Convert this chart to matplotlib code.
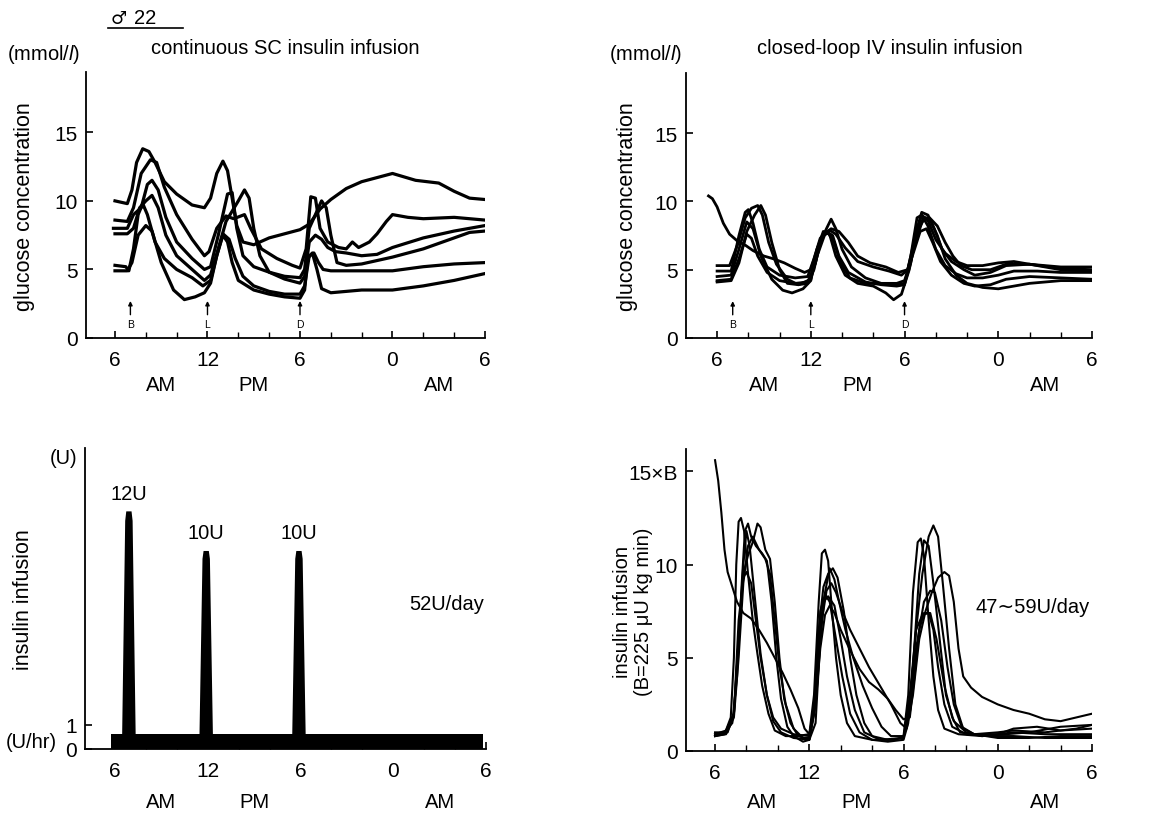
import matplotlib
matplotlib.use("Agg")
import matplotlib.pyplot as plt
from matplotlib.lines import Line2D
import numpy as np

plt.rcParams['font.family'] = ['Liberation Sans', 'DejaVu Sans']
plt.rcParams['mathtext.fontset'] = 'custom'
plt.rcParams['mathtext.rm'] = 'Liberation Sans'
plt.rcParams['mathtext.it'] = 'Liberation Sans:italic'

# time axis: hours after 6 AM
tick_hours = [0, 6, 12, 18, 24]
tick_labels = ['6', '12', '6', '0', '6']
ampm_hours = [3, 9, 21]
ampm_labels = ['AM', 'PM', 'AM']
meal_hours = [1.0, 6.0, 12.0]
meal_labels = ['B', 'L', 'D']

# glucose, continuous SC insulin infusion (mmol/l)
sc_curves = [
    ([0, 0.8, 1.1, 1.4, 1.8, 2.2, 2.6, 3.2, 4, 5, 5.8, 6.2, 6.6, 7.0, 7.3, 7.6, 7.9, 8.3, 9, 10, 11, 12, 12.6, 13.3, 14, 15, 16, 17, 18, 19.5, 21, 22, 23, 24],
     [10.0, 9.8, 10.8, 12.8, 13.8, 13.6, 12.8, 11.4, 10.5, 9.7, 9.5, 10.2, 12.0, 12.9, 12.2, 10.2, 8.2, 7.0, 6.8, 7.3, 7.6, 7.9, 8.3, 9.4, 10.1, 10.9, 11.4, 11.7, 12.0, 11.5, 11.3, 10.7, 10.2, 10.1]),
    ([0, 0.8, 1.2, 1.7, 2.3, 2.7, 3.2, 4, 5, 5.8, 6.1, 6.6, 7.2, 7.7, 8.4, 8.8, 9.5, 10.5, 11.5, 12, 12.4, 12.7, 13.0, 13.3, 13.8, 14.5, 15, 15.4, 15.8, 16.5, 17, 17.6, 18, 19, 20, 22, 24],
     [8.6, 8.5, 9.5, 12.0, 13.0, 12.8, 11.0, 9.0, 7.2, 6.0, 6.3, 8.0, 8.9, 8.7, 9.0, 8.0, 6.5, 5.8, 5.3, 5.1, 6.5, 10.3, 10.2, 8.0, 7.0, 6.6, 6.5, 7.0, 6.6, 7.0, 7.6, 8.5, 9.0, 8.8, 8.7, 8.8, 8.6]),
    ([-0.1, 0.8, 1.2, 1.7, 2.1, 2.4, 2.8, 3.3, 4, 5, 5.8, 6.2, 6.7, 7.3, 7.6, 7.9, 8.3, 9, 10, 11, 12, 12.3, 12.6, 13.0, 13.4, 13.7, 14.0, 14.4, 15, 16, 18, 20, 22, 23, 24],
     [8.0, 8.0, 9.0, 9.5, 11.2, 11.5, 10.8, 8.8, 7.0, 5.8, 5.0, 5.2, 7.5, 10.5, 10.6, 8.0, 6.0, 5.2, 4.8, 4.5, 4.4, 5.0, 8.0, 9.0, 10.0, 9.5, 7.5, 5.5, 5.3, 5.4, 5.9, 6.5, 7.3, 7.7, 7.8]),
    ([0, 0.8, 1.2, 1.6, 2.0, 2.4, 2.8, 3.3, 4, 5, 5.8, 6.2, 6.7, 7.2, 8, 8.4, 8.7, 9.0, 9.4, 10, 11, 12, 12.3, 12.6, 13, 13.4, 13.8, 14.3, 15, 16, 17, 18, 20, 22, 24],
     [7.6, 7.6, 8.0, 9.5, 10.0, 10.4, 9.5, 7.5, 6.0, 5.0, 4.2, 4.6, 6.5, 8.5, 10.0, 10.8, 10.2, 8.0, 6.0, 4.8, 4.3, 4.0, 4.5, 7.0, 7.5, 7.2, 6.6, 6.3, 6.2, 6.0, 6.1, 6.6, 7.3, 7.8, 8.2]),
    ([0, 0.7, 0.9, 1.2, 1.5, 1.8, 2.1, 2.6, 3.2, 4, 5, 5.7, 6.2, 6.6, 7.0, 7.4, 7.8, 8.3, 9, 10, 11, 12, 12.3, 12.6, 12.9, 13.2, 13.5, 14, 16, 18, 20, 22, 24],
     [5.3, 5.2, 4.9, 6.5, 9.0, 9.8, 9.0, 7.0, 5.8, 5.0, 4.4, 3.8, 4.2, 6.0, 7.6, 7.2, 5.8, 4.5, 3.8, 3.4, 3.2, 3.2, 3.8, 6.0, 6.2, 5.5, 5.0, 4.9, 4.9, 4.9, 5.2, 5.4, 5.5]),
    ([0, 0.8, 1.1, 1.5, 2.0, 2.4, 3, 3.8, 4.5, 5.2, 5.8, 6.2, 6.6, 7.0, 7.3, 7.6, 8, 9, 10, 11, 12, 12.3, 12.5, 12.8, 13.1, 13.4, 14, 16, 18, 20, 21, 22, 24],
     [4.9, 4.9, 5.5, 7.5, 8.2, 7.8, 5.5, 3.5, 2.8, 3.0, 3.3, 4.0, 6.0, 7.5, 7.0, 5.5, 4.2, 3.5, 3.2, 3.0, 2.9, 3.5, 5.8, 6.2, 5.0, 3.6, 3.3, 3.5, 3.5, 3.8, 4.0, 4.2, 4.7]),
]

# glucose, closed-loop IV insulin infusion (mmol/l)
iv_curves = [
    ([-0.55, -0.3, 0, 0.4, 0.8, 1.3, 1.8, 2.3, 3, 3.6, 4.3, 5, 5.6, 6.0, 6.4, 6.8, 7.2, 7.6, 8.2, 9, 10, 11, 11.8, 12.2, 12.7, 13.1, 13.5, 14, 14.6, 15.3, 16, 17, 18, 19, 20, 22, 24],
     [10.4, 10.2, 9.6, 8.4, 7.6, 7.1, 6.8, 6.4, 6.0, 5.8, 5.5, 5.1, 4.8, 5.0, 6.5, 7.6, 7.9, 7.6, 6.6, 5.6, 5.2, 4.9, 4.6, 5.0, 7.5, 9.0, 8.6, 7.2, 6.2, 5.6, 5.3, 5.3, 5.5, 5.6, 5.4, 5.1, 5.0]),
    ([0, 0.8, 1.3, 1.8, 2.2, 2.6, 2.9, 3.3, 3.8, 4.5, 5.2, 5.8, 6.2, 6.6, 7.0, 7.3, 7.6, 8.0, 8.6, 9.5, 10.5, 11.5, 12.0, 12.4, 12.8, 13.1, 13.5, 13.9, 14.4, 15, 15.8, 16.5, 17.5, 18.5, 20, 22, 24],
     [5.3, 5.3, 6.8, 8.8, 9.5, 9.7, 9.0, 7.0, 5.4, 4.3, 3.9, 4.0, 5.0, 7.0, 8.0, 8.7, 8.0, 6.5, 5.2, 4.4, 4.0, 3.9, 4.0, 5.5, 8.0, 9.2, 9.0, 8.0, 6.5, 5.6, 5.0, 4.6, 4.8, 5.3, 5.4, 5.2, 5.2]),
    ([0, 0.9, 1.4, 1.8, 2.0, 2.3, 2.7, 3.2, 4, 5, 5.8, 6.2, 6.6, 7.0, 7.4, 7.8, 8.4, 9.5, 10.5, 11.5, 12.0, 12.4, 12.8, 13.1, 13.5, 14.0, 14.6, 15.3, 16, 17, 18, 19, 20.5, 22, 24],
     [4.9, 4.9, 7.5, 9.2, 9.4, 8.4, 6.5, 5.2, 4.6, 4.4, 4.5, 5.8, 7.3, 7.8, 7.5, 6.0, 4.8, 4.1, 3.9, 3.8, 3.9, 6.0, 8.8, 9.0, 8.2, 6.5, 5.3, 4.7, 4.4, 4.4, 4.6, 4.9, 4.9, 4.8, 4.8]),
    ([0, 0.9, 1.4, 1.9, 2.3, 2.8, 3.5, 4.2, 4.8, 5.5, 6.0, 6.4, 6.8, 7.2, 7.6, 8.2, 9, 10, 10.8, 11.3, 11.8, 12.3, 12.8, 13.3, 13.7, 14.1, 14.6, 15.3, 16, 17, 18, 19, 20, 22, 24],
     [4.5, 4.6, 6.5, 8.5, 8.0, 6.0, 4.3, 3.5, 3.3, 3.6, 4.2, 6.5, 7.8, 7.6, 6.0, 4.6, 4.0, 3.8, 3.3, 2.8, 3.2, 5.0, 7.8, 8.8, 8.5, 7.5, 5.8, 4.6, 4.0, 3.7, 3.6, 3.8, 4.0, 4.2, 4.2]),
    ([0, 0.9, 1.4, 1.9, 2.2, 2.6, 3.2, 4, 5, 5.8, 6.3, 6.7, 7.1, 7.5, 7.9, 8.5, 9.5, 10.5, 11.5, 12.0, 12.5, 13.0, 13.4, 13.8, 14.3, 15, 15.8, 16.5, 17.5, 18.5, 20, 22, 24],
     [4.2, 4.3, 5.8, 7.6, 7.3, 6.0, 4.8, 4.2, 4.0, 4.1, 5.5, 7.4, 7.7, 7.0, 5.5, 4.4, 4.0, 4.0, 4.0, 4.2, 6.0, 7.8, 8.0, 7.0, 5.6, 4.6, 4.0, 3.8, 3.9, 4.3, 4.5, 4.4, 4.3]),
    ([0, 0.9, 1.4, 1.9, 2.4, 2.8, 3.1, 3.5, 4, 4.5, 5.2, 6.0, 6.4, 6.9, 7.3, 7.8, 8.4, 9, 9.8, 10.8, 11.6, 12.2, 12.7, 13.2, 13.6, 14.1, 14.6, 15.1, 15.6, 16.3, 17.5, 18.5, 20, 22, 24],
     [4.1, 4.2, 5.5, 7.8, 9.0, 9.7, 9.0, 7.0, 5.0, 4.0, 3.9, 4.3, 6.0, 7.6, 8.0, 7.8, 7.0, 6.0, 5.5, 5.2, 4.8, 5.0, 7.0, 8.8, 8.8, 8.2, 7.0, 6.0, 5.3, 5.0, 5.0, 5.4, 5.4, 5.0, 4.9]),
]

# insulin infusion, continuous SC pump
bolus_hours = [0.9, 5.9, 11.9]
bolus_units = [12, 10, 10]
basal_start, basal_end = -0.26, 23.8
basal_rate = 0.62  # U/hr

# insulin infusion, closed loop (multiples of B = 225 uU/kg/min)
cl_curves = [
    ([0, 0.2, 0.4, 0.6, 0.8, 1.1, 1.4, 1.8, 2.3, 2.8, 3.3, 3.8, 4.3, 4.8, 5.3, 5.7, 6.0, 6.4, 6.7, 7.0, 7.3, 7.6, 8.0, 8.6, 9.2, 9.8, 10.4, 11, 11.5, 12, 12.4, 12.7, 13.0, 13.3, 13.7, 14.1, 14.6, 15.1, 15.6, 16.5, 18, 19, 21, 23, 24],
     [15.6, 14.5, 12.8, 10.8, 9.6, 8.8, 8.0, 7.4, 7.1, 6.5, 5.8, 5.0, 4.2, 3.3, 2.3, 1.2, 0.9, 2.5, 5.5, 7.3, 7.8, 7.4, 6.5, 5.4, 4.4, 3.7, 3.3, 2.8, 2.2, 1.7, 1.8, 4.0, 6.5, 7.4, 7.4, 6.0, 3.5, 1.8, 1.0, 0.9, 1.0, 1.1, 1.0, 1.2, 1.4]),
    ([0, 0.6, 1.0, 1.2, 1.35, 1.5, 1.65, 1.85, 2.1, 2.4, 2.7, 3.0, 3.4, 3.8, 4.5, 5.2, 6.0, 6.3, 6.6, 6.8, 7.0, 7.2, 7.4, 7.7, 8.0, 8.4, 8.9, 10, 11.5, 12, 12.3, 12.6, 12.9, 13.1, 13.3, 13.6, 13.9, 14.2, 14.6, 15.5, 17, 19, 21, 24],
     [0.8, 0.9, 1.8, 5.0, 10.0, 12.3, 12.5, 11.8, 9.5, 7.0, 5.2, 3.5, 2.0, 1.1, 0.8, 0.8, 0.9, 3.0, 8.0, 10.6, 10.8, 10.2, 8.0, 5.0, 3.0, 1.5, 0.8, 0.6, 0.6, 0.8, 3.0, 8.5, 11.2, 11.4, 10.5, 7.0, 4.0, 2.2, 1.2, 0.9, 0.8, 1.0, 0.9, 0.9]),
    ([0, 0.6, 1.1, 1.4, 1.7, 1.9, 2.1, 2.3, 2.6, 3.0, 3.3, 3.6, 3.9, 4.2, 4.6, 5.0, 5.6, 6.0, 6.3, 6.6, 6.9, 7.2, 7.5, 7.8, 8.2, 8.6, 9.0, 9.5, 10, 11, 12, 12.4, 12.8, 13.2, 13.6, 13.9, 14.2, 14.5, 14.9, 15.3, 15.8, 16.5, 18, 20, 22, 24],
     [0.8, 1.0, 1.5, 4.0, 9.0, 11.8, 12.2, 11.5, 11.0, 10.6, 10.2, 8.0, 5.0, 2.8, 1.3, 0.8, 0.5, 0.6, 2.0, 6.5, 8.8, 9.5, 9.8, 9.3, 7.5, 5.0, 3.0, 1.5, 0.8, 0.6, 0.7, 2.5, 6.5, 9.5, 11.5, 12.1, 11.5, 9.0, 5.5, 2.5, 1.2, 0.9, 0.7, 0.7, 0.8, 0.8]),
    ([0, 0.7, 1.2, 1.5, 1.8, 2.1, 2.4, 2.7, 2.9, 3.2, 3.5, 3.8, 4.1, 4.4, 4.8, 5.3, 6, 6.4, 6.7, 7.0, 7.3, 7.6, 7.9, 8.3, 8.8, 9.4, 10, 10.6, 11.2, 12, 12.4, 12.8, 13.3, 13.7, 14.0, 14.4, 14.8, 15.2, 15.7, 16.5, 18, 19, 20.5, 22, 24],
     [0.9, 1.1, 2.0, 6.0, 9.5, 10.5, 11.2, 12.2, 12.0, 10.8, 10.3, 8.0, 5.0, 2.8, 1.5, 0.8, 0.6, 1.5, 6.0, 8.5, 9.8, 9.2, 8.0, 6.5, 5.0, 3.5, 2.3, 1.3, 0.8, 0.8, 2.0, 5.5, 8.0, 8.6, 8.5, 7.0, 4.5, 2.5, 1.3, 0.9, 0.9, 1.2, 1.3, 1.1, 1.2]),
    ([0, 0.8, 1.2, 1.5, 1.8, 2.0, 2.3, 2.6, 2.9, 3.3, 3.7, 4.2, 5, 6, 6.3, 6.6, 6.9, 7.2, 7.6, 8.0, 8.4, 8.9, 9.5, 10.5, 12, 12.4, 12.8, 13.2, 13.6, 13.9, 14.2, 14.6, 15.1, 16, 17.5, 19, 21, 24],
     [1.0, 1.0, 2.0, 7.0, 9.3, 9.6, 9.0, 7.0, 5.0, 3.0, 1.6, 1.0, 0.7, 0.6, 2.0, 6.0, 8.0, 8.3, 7.8, 6.0, 4.0, 2.2, 1.0, 0.6, 0.7, 3.0, 6.5, 7.3, 7.4, 6.5, 4.5, 2.5, 1.3, 0.9, 0.8, 0.8, 0.7, 0.7]),
    ([0, 0.7, 1.2, 1.5, 1.8, 2.1, 2.4, 2.8, 3.2, 3.5, 3.8, 4.1, 4.5, 5.0, 5.6, 6.0, 6.4, 6.8, 7.1, 7.4, 7.7, 8.1, 8.6, 9.2, 9.8, 10.5, 11.2, 11.8, 12.2, 12.6, 13.0, 13.4, 13.8, 14.2, 14.6, 14.9, 15.2, 15.5, 15.8, 16.3, 17, 18, 19, 20, 21, 22, 23, 24],
     [0.8, 0.9, 1.8, 5.0, 9.0, 11.0, 11.5, 10.8, 10.3, 9.5, 7.0, 4.5, 2.5, 1.2, 0.7, 0.7, 2.5, 7.0, 8.6, 9.0, 8.5, 7.5, 6.5, 5.5, 4.5, 3.5, 2.5, 1.5, 1.2, 3.0, 6.0, 7.5, 8.5, 9.3, 9.6, 9.4, 8.0, 5.5, 4.0, 3.4, 2.9, 2.5, 2.2, 2.0, 1.7, 1.6, 1.8, 2.0]),
    ([0, 0.7, 1.2, 1.5, 1.8, 2.0, 2.2, 2.5, 2.9, 3.3, 3.7, 4.2, 5, 6, 6.4, 6.7, 7.0, 7.3, 7.7, 8.1, 8.6, 9.2, 10, 11, 12, 12.3, 12.6, 13.0, 13.3, 13.6, 13.9, 14.3, 14.7, 15.2, 16, 17, 18.5, 20, 22, 24],
     [0.9, 1.0, 2.0, 6.0, 10.0, 11.8, 11.0, 8.5, 5.2, 3.0, 1.8, 1.2, 0.9, 0.8, 3.0, 7.5, 8.4, 8.0, 6.0, 4.0, 2.0, 1.0, 0.6, 0.5, 0.6, 1.5, 4.5, 9.5, 11.3, 11.0, 9.0, 6.0, 3.0, 1.6, 1.0, 0.8, 0.9, 1.0, 1.3, 1.4]),
]

W, H = 1152, 820
fig = plt.figure(figsize=(W / 100, H / 100), dpi=100)

FS = 14.5      # captions
FS_TICK = 15   # tick labels
FS_YLAB = 15.5


def axes_px(x0, y0, x1, y1):
    return fig.add_axes([x0 / W, 1 - y1 / H, (x1 - x0) / W, (y1 - y0) / H])


def ftext(x, y, s, **kw):
    kw.setdefault('ha', 'center')
    kw.setdefault('va', 'center')
    kw.setdefault('fontsize', FS)
    fig.text(x / W, 1 - y / H, s, **kw)


def time_axis(ax, left):
    ax.set_xlim(left, 24)
    for side in ('top', 'right'):
        ax.spines[side].set_visible(False)
    for side in ('left', 'bottom'):
        ax.spines[side].set_linewidth(1.3)
    ax.set_xticks(tick_hours)
    ax.set_xticklabels(tick_labels)
    ax.set_xticks(np.arange(0, 25, 2), minor=True)
    ax.tick_params(axis='both', which='major', direction='in', length=5,
                   width=1.2, labelsize=FS_TICK, pad=6)
    ax.tick_params(axis='x', which='major', pad=9)
    ax.tick_params(axis='x', which='minor', direction='in', length=4, width=1)


def meal_marks(ax):
    for t, m in zip(meal_hours, meal_labels):
        ax.annotate('', xy=(t, 2.7), xytext=(t, 1.7),
                    arrowprops=dict(arrowstyle='-|>', lw=1.0, color='k',
                                    mutation_scale=6, shrinkA=0, shrinkB=0))
        ax.text(t, 1.0, m, ha='center', va='center', fontsize=7.5)


# top left: glucose, SC infusion
ax1 = axes_px(86, 73, 485, 339)
time_axis(ax1, -1.88)
ax1.set_ylim(0, 19.4)
ax1.set_yticks([0, 5, 10, 15])
for hrs, vals in sc_curves:
    ax1.plot(hrs, vals, color='k', lw=2.3, solid_joinstyle='round')
meal_marks(ax1)

# top right: glucose, closed loop
ax2 = axes_px(686, 74, 1092, 339)
time_axis(ax2, -1.99)
ax2.set_ylim(0, 19.4)
ax2.set_yticks([0, 5, 10, 15])
for hrs, vals in iv_curves:
    ax2.plot(hrs, vals, color='k', lw=2.0, solid_joinstyle='round')
meal_marks(ax2)

# bottom left: SC pump, basal band plus boluses
ax3 = axes_px(85, 449, 486, 750)
time_axis(ax3, -1.94)
ax3.set_ylim(0, 12.5)
ax3.set_yticks([0, 1])
ax3.fill_between([basal_start, basal_end], 0, basal_rate, color='k', lw=0)
axu = ax3.twinx()
axu.set_ylim(0, 15.2)
axu.axis('off')
for t, u in zip(bolus_hours, bolus_units):
    xs = [t - 0.45, t - 0.24, t - 0.17, t + 0.17, t + 0.24, t + 0.45]
    ys = [0, 0.96 * u, u, u, 0.96 * u, 0]
    axu.fill(xs, ys, color='k', lw=0)
    axu.annotate(f'{u}U', xy=(t, u), xytext=(0, 13), textcoords='offset points',
                 ha='center', va='center', fontsize=FS)

# bottom right: closed-loop infusion rate
ax4 = axes_px(686, 450, 1092, 752)
time_axis(ax4, -1.85)
ax4.set_ylim(0, 16.2)
ax4.set_yticks([0, 5, 10, 15])
ax4.set_yticklabels(['0', '5', '10', '15×B'])
for hrs, vals in cl_curves:
    ax4.plot(hrs, vals, color='k', lw=1.5, solid_joinstyle='round')

# AM / PM rows
for ax, y in ((ax1, 386), (ax2, 386), (ax3, 803), (ax4, 803)):
    pos = ax.get_position()
    yrel = ((1 - y / H) - pos.y0) / pos.height
    for t, s in zip(ampm_hours, ampm_labels):
        ax.text(t, yrel, s, transform=ax.get_xaxis_transform(), ha='center',
                va='center', fontsize=FS)

# headings and axis captions
ftext(119, 19, '♂', fontsize=13, family='DejaVu Sans')
ftext(145, 19, '22', fontsize=FS)
fig.add_artist(Line2D([108 / W, 183 / W], [1 - 29 / H, 1 - 29 / H], color='k', lw=1.2))
ftext(285, 48, 'continuous SC insulin infusion')
ftext(890, 48, 'closed-loop IV insulin infusion')
ftext(44, 54, r'(mmol/$\mathit{l}$)')
ftext(646, 54, r'(mmol/$\mathit{l}$)')
ftext(25, 207, 'glucose concentration', rotation=90, fontsize=FS_YLAB)
ftext(627, 207, 'glucose concentration', rotation=90, fontsize=FS_YLAB)
ftext(64, 458, '(U)')
ftext(31, 743, '(U/hr)')
ftext(24, 600, 'insulin infusion', rotation=90, fontsize=FS_YLAB)
ftext(447, 605, '52U/day')
ftext(633, 612, 'insulin infusion\n(B=225 μU kg min)', rotation=90,
      linespacing=1.1, fontsize=FS)
ftext(1033, 608, '47∼59U/day')

fig.savefig('out.png', dpi=100)
